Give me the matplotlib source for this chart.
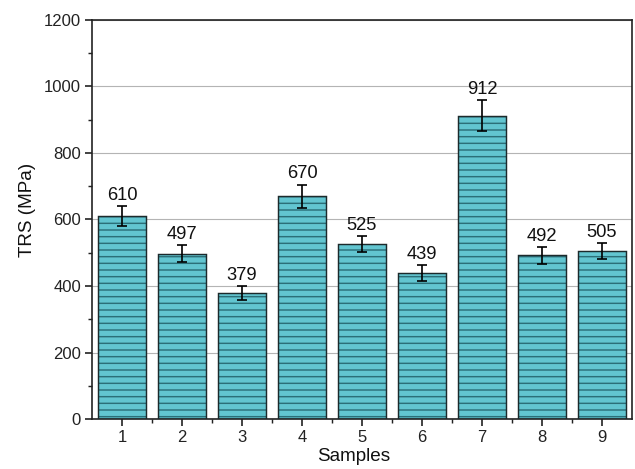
import matplotlib
matplotlib.use("Agg")
import matplotlib.pyplot as plt
from matplotlib.ticker import MultipleLocator

samples = [1, 2, 3, 4, 5, 6, 7, 8, 9]
trs = [610, 497, 379, 670, 525, 439, 912, 492, 505]
errors = [31, 25, 20, 35, 24, 23, 46, 25, 24]
tick_labels = ["1", "2", "3", "4", "5", "6", "7", "8", "9"]

plt.rcParams['font.family'] = ['Liberation Sans', 'DejaVu Sans']
plt.rcParams['hatch.linewidth'] = 1.3

dpi = 80
fig = plt.figure(figsize=(635 / dpi, 469 / dpi), dpi=dpi)
ax = fig.add_axes([0.1449, 0.1066, 0.8504, 0.8508])

ax.set_axisbelow(True)
ax.yaxis.grid(True, which='major', color='#b4b4b4', linewidth=1.0)

# fill + hatch
ax.bar(samples, trs, width=0.8, color='#62c5d0', edgecolor='#2b6f78',
       linewidth=0, hatch='--', zorder=2)
# outline
ax.bar(samples, trs, width=0.8, fill=False, edgecolor='#1c2a2c',
       linewidth=1.3, zorder=3)

ax.errorbar(samples, trs, yerr=errors, fmt='none', ecolor='black',
            elinewidth=1.5, capsize=4.5, capthick=1.5, zorder=4)

for x, v, e in zip(samples, trs, errors):
    ax.annotate(f"{v}", xy=(x, v + e), xytext=(0, 5.5), textcoords='offset points',
                ha='center', va='baseline', fontsize=16.5, color='#111111', zorder=5)

ax.set_xlim(0.5, 9.5)
ax.set_ylim(0, 1200)
ax.set_xticks(samples)
ax.set_xticklabels(tick_labels)
ax.set_xticks([s + 0.5 for s in samples[:-1]], minor=True)
ax.yaxis.set_major_locator(MultipleLocator(200))
ax.yaxis.set_minor_locator(MultipleLocator(100))

ax.tick_params(axis='both', which='major', direction='out', length=6, width=1.5,
               labelsize=15, colors='#222222', pad=4)
ax.tick_params(axis='both', which='minor', direction='out', length=3.5, width=1.3,
               colors='#222222')

for sp in ax.spines.values():
    sp.set_linewidth(1.5)
    sp.set_color('#222222')

ax.set_xlabel("Samples", fontsize=17, color='#111111')
ax.set_ylabel("TRS (MPa)", fontsize=17, color='#111111')
ax.xaxis.set_label_coords(0.485, -0.073, transform=ax.transAxes)
ax.yaxis.set_label_coords(-0.104, 0.524, transform=ax.transAxes)
ax.xaxis.label.set_va('top')

fig.savefig("out.png", dpi=dpi)
